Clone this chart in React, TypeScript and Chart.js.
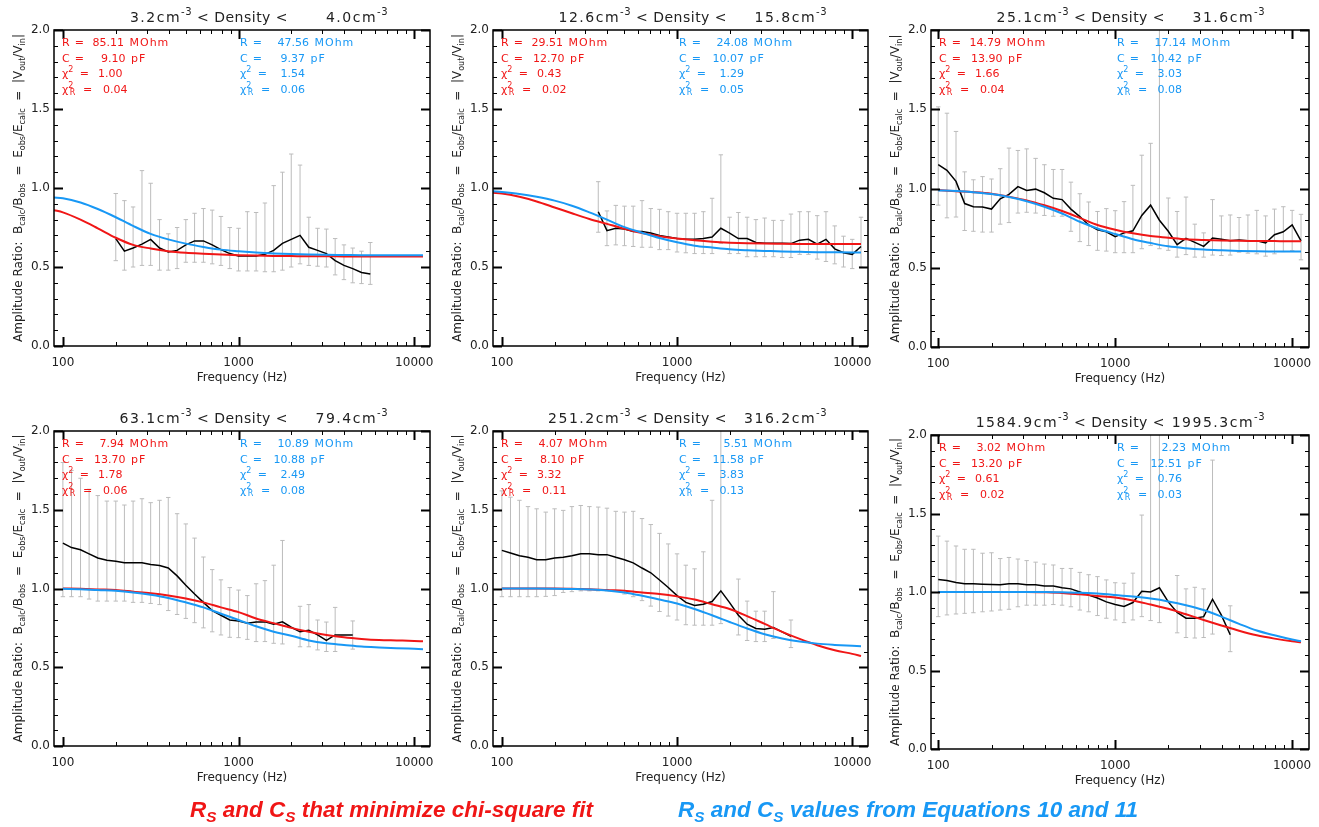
import React, { useEffect, useRef } from "react";
import { Chart, registerables } from "chart.js";

Chart.register(...registerables);

const FONT = "'DejaVu Sans', sans-serif";
const RED = "rgb(240,22,22)";
const BLUE = "rgb(24,152,245)";
const GRAY = "rgb(188,188,188)";
const INK = "#222";

// ---------------- data ----------------
const FREQ = [100, 112, 126, 141, 158, 178, 200, 224, 251, 282, 316, 355, 398, 447, 501, 562, 631, 708, 794, 891,
  1000, 1122, 1259, 1413, 1585, 1778, 1995, 2239, 2512, 2818, 3162, 3548, 3981, 4467, 5012, 5623, 6310, 7079, 7943, 8913,
  10000, 11220];

const MODEL_FREQ = [89, 100, 126, 158, 200, 251, 316, 398, 501, 631, 794, 1000, 1259, 1585, 1995, 2512, 3162, 3981, 5012,
  6310, 7943, 10000, 11220];

const X_TICK_LABELS = [100, 1000, 10000];
const Y_TICK_STEP = 0.5;

// Panel 1: 3.2 - 4.0 cm^-3
const P1_START = 6;
const P1_OBS = [0.68, 0.60, 0.62, 0.645, 0.675, 0.62, 0.595, 0.605, 0.64, 0.665, 0.665, 0.64, 0.61, 0.585, 0.57, 0.57, 0.57, 0.58, 0.605, 0.65, 0.675, 0.70, 0.625, 0.605, 0.585, 0.54, 0.51, 0.49, 0.465, 0.455];
const P1_HI = [0.965, 0.92, 0.88, 1.11, 1.03, 0.80, 0.71, 0.75, 0.80, 0.84, 0.87, 0.86, 0.82, 0.75, 0.745, 0.85, 0.845, 0.905, 1.015, 1.10, 1.215, 1.145, 0.815, 0.745, 0.74, 0.68, 0.64, 0.62, 0.60, 0.655];
const P1_LO = [0.54, 0.48, 0.50, 0.51, 0.51, 0.48, 0.48, 0.49, 0.53, 0.53, 0.53, 0.52, 0.51, 0.49, 0.475, 0.475, 0.475, 0.47, 0.47, 0.48, 0.50, 0.52, 0.51, 0.505, 0.50, 0.45, 0.42, 0.40, 0.395, 0.39];
const P1_RED = [0.86, 0.846, 0.80, 0.745, 0.685, 0.64, 0.617, 0.60, 0.59, 0.584, 0.579, 0.575, 0.572, 0.57, 0.569, 0.568, 0.568, 0.567, 0.567, 0.567, 0.567, 0.567, 0.567];
const P1_BLUE = [0.94, 0.935, 0.908, 0.867, 0.815, 0.76, 0.71, 0.675, 0.648, 0.627, 0.61, 0.60, 0.592, 0.586, 0.582, 0.579, 0.577, 0.576, 0.575, 0.575, 0.575, 0.575, 0.575];

// Panel 2: 12.6 - 15.8 cm^-3
const P2_START = 11;
const P2_OBS = [0.85, 0.73, 0.745, 0.74, 0.725, 0.725, 0.715, 0.70, 0.69, 0.68, 0.675, 0.675, 0.68, 0.69, 0.745, 0.715, 0.68, 0.68, 0.655, 0.65, 0.65, 0.65, 0.648, 0.67, 0.675, 0.645, 0.675, 0.615, 0.59, 0.58, 0.63];
const P2_HI = [1.04, 0.855, 0.89, 0.885, 0.885, 0.92, 0.87, 0.865, 0.85, 0.84, 0.84, 0.84, 0.85, 0.935, 1.21, 0.815, 0.845, 0.815, 0.80, 0.81, 0.795, 0.795, 0.835, 0.85, 0.85, 0.825, 0.85, 0.76, 0.695, 0.675, 0.815];
const P2_LO = [0.72, 0.635, 0.64, 0.635, 0.63, 0.625, 0.625, 0.61, 0.61, 0.595, 0.59, 0.585, 0.585, 0.585, 0.65, 0.585, 0.585, 0.565, 0.565, 0.565, 0.565, 0.56, 0.56, 0.58, 0.58, 0.55, 0.535, 0.52, 0.50, 0.49, 0.50];
const P2_RED = [0.97, 0.965, 0.944, 0.915, 0.877, 0.84, 0.804, 0.773, 0.742, 0.715, 0.694, 0.68, 0.669, 0.66, 0.654, 0.65, 0.648, 0.647, 0.646, 0.645, 0.645, 0.645, 0.645];
const P2_BLUE = [0.98, 0.975, 0.962, 0.944, 0.92, 0.888, 0.846, 0.80, 0.752, 0.717, 0.683, 0.656, 0.635, 0.623, 0.612, 0.606, 0.602, 0.598, 0.596, 0.594, 0.593, 0.592, 0.591];

// Panel 3: 25.1 - 31.6 cm^-3
const P3_START = 0;
const P3_OBS = [1.15, 1.115, 1.045, 0.905, 0.885, 0.883, 0.87, 0.935, 0.963, 1.012, 0.988, 0.996, 0.973, 0.938, 0.93, 0.87, 0.823, 0.77, 0.74, 0.727, 0.696, 0.72, 0.733, 0.83, 0.895, 0.80, 0.73, 0.646, 0.685, 0.66, 0.635, 0.687, 0.68, 0.67, 0.675, 0.67, 0.67, 0.656, 0.708, 0.727, 0.77, 0.67];
const P3_HI = [1.515, 1.475, 1.36, 1.105, 1.055, 1.075, 1.06, 1.125, 1.255, 1.24, 1.25, 1.19, 1.15, 1.12, 1.12, 1.04, 0.967, 0.915, 0.855, 0.873, 0.86, 0.917, 1.02, 1.21, 1.285, 2.2, 0.94, 0.855, 0.946, 0.775, 0.72, 0.93, 0.827, 0.833, 0.817, 0.833, 0.862, 0.827, 0.87, 0.885, 0.862, 0.837];
const P3_LO = [0.895, 0.815, 0.82, 0.735, 0.73, 0.725, 0.725, 0.775, 0.785, 0.845, 0.85, 0.845, 0.83, 0.825, 0.825, 0.73, 0.665, 0.64, 0.61, 0.605, 0.595, 0.595, 0.595, 0.62, 0.64, 0.62, 0.61, 0.567, 0.583, 0.567, 0.567, 0.58, 0.577, 0.58, 0.598, 0.592, 0.588, 0.573, 0.588, 0.602, 0.608, 0.55];
const P3_RED = [null, 0.99, 0.983, 0.977, 0.967, 0.948, 0.925, 0.894, 0.858, 0.815, 0.77, 0.74, 0.717, 0.70, 0.69, 0.68, 0.675, 0.672, 0.67, 0.669, 0.668, 0.667, 0.667];
const P3_BLUE = [null, 0.988, 0.984, 0.977, 0.965, 0.946, 0.92, 0.885, 0.842, 0.79, 0.748, 0.713, 0.68, 0.656, 0.635, 0.623, 0.615, 0.61, 0.606, 0.604, 0.603, 0.602, 0.602];

// Panel 4: 63.1 - 79.4 cm^-3
const P4_START = 0;
const P4_OBS = [1.288, 1.26, 1.246, 1.22, 1.194, 1.18, 1.173, 1.163, 1.163, 1.163, 1.152, 1.146, 1.13, 1.08, 1.02, 0.965, 0.912, 0.86, 0.83, 0.80, 0.794, 0.78, 0.788, 0.788, 0.773, 0.788, 0.754, 0.725, 0.735, 0.705, 0.67, 0.705, 0.705, 0.705];
const P4_HI = [1.80, 1.75, 1.70, 1.63, 1.59, 1.555, 1.555, 1.53, 1.555, 1.57, 1.545, 1.56, 1.578, 1.475, 1.41, 1.32, 1.20, 1.12, 1.055, 1.006, 0.99, 0.955, 1.03, 1.05, 1.148, 1.305, null, 0.887, 0.898, 0.80, 0.787, 0.88, null, 0.794];
const P4_LO = [0.948, 0.948, 0.948, 0.933, 0.92, 0.92, 0.92, 0.92, 0.912, 0.912, 0.905, 0.898, 0.86, 0.835, 0.81, 0.783, 0.75, 0.725, 0.705, 0.69, 0.688, 0.677, 0.663, 0.663, 0.652, 0.648, null, 0.63, 0.63, 0.61, 0.60, 0.60, null, 0.615];
const P4_RED = [null, 1.0, 0.998, 0.994, 0.99, 0.98, 0.97, 0.956, 0.937, 0.912, 0.88, 0.85, 0.81, 0.78, 0.75, 0.725, 0.705, 0.69, 0.68, 0.673, 0.67, 0.667, 0.665];
const P4_BLUE = [null, 0.998, 0.996, 0.99, 0.985, 0.975, 0.96, 0.94, 0.912, 0.88, 0.84, 0.80, 0.76, 0.725, 0.70, 0.67, 0.652, 0.642, 0.632, 0.626, 0.621, 0.617, 0.615];

// Panel 5: 251.2 - 316.2 cm^-3
const P5_START = 0;
const P5_OBS = [1.242, 1.225, 1.208, 1.198, 1.183, 1.183, 1.194, 1.198, 1.208, 1.22, 1.22, 1.215, 1.215, 1.198, 1.183, 1.163, 1.13, 1.10, 1.054, 1.006, 0.955, 0.912, 0.892, 0.90, 0.917, 0.985, 0.91, 0.83, 0.773, 0.746, 0.742, 0.752, 0.725, 0.696];
const P5_HI = [1.62, 1.58, 1.56, 1.52, 1.506, 1.485, 1.506, 1.496, 1.52, 1.527, 1.52, 1.517, 1.51, 1.49, 1.485, 1.49, 1.444, 1.406, 1.35, 1.283, 1.22, 1.148, 1.125, 1.233, 1.56, 2.2, null, 1.06, 0.92, 0.856, 0.856, 0.98, null, 0.80];
const P5_LO = [0.948, 0.948, 0.948, 0.948, 0.948, 0.95, 0.955, 0.975, 0.98, 0.985, 0.985, 0.985, 0.985, 0.985, 0.965, 0.948, 0.923, 0.888, 0.854, 0.825, 0.80, 0.77, 0.767, 0.767, 0.767, 0.777, null, 0.705, 0.67, 0.663, 0.663, 0.683, null, 0.625];
const P5_RED = [null, 1.0, 1.0, 1.0, 1.0, 0.998, 0.996, 0.99, 0.985, 0.975, 0.965, 0.95, 0.93, 0.90, 0.87, 0.825, 0.775, 0.725, 0.68, 0.64, 0.608, 0.585, 0.572];
const P5_BLUE = [null, 1.0, 1.0, 1.0, 0.999, 0.997, 0.994, 0.988, 0.975, 0.954, 0.93, 0.905, 0.87, 0.83, 0.787, 0.746, 0.71, 0.683, 0.663, 0.65, 0.642, 0.636, 0.633];

// Panel 6: 1584.9 - 1995.3 cm^-3
const P6_START = 0;
const P6_OBS = [1.08, 1.073, 1.06, 1.052, 1.052, 1.05, 1.048, 1.046, 1.052, 1.052, 1.046, 1.046, 1.038, 1.038, 1.027, 1.02, 1.0, 0.98, 0.962, 0.937, 0.92, 0.908, 0.933, 1.004, 1.0, 1.027, 0.937, 0.87, 0.833, 0.833, 0.843, 0.954, 0.853, 0.728];
const P6_HI = [1.356, 1.324, 1.293, 1.272, 1.272, 1.247, 1.25, 1.213, 1.22, 1.21, 1.2, 1.19, 1.178, 1.172, 1.15, 1.15, 1.125, 1.11, 1.098, 1.077, 1.059, 1.056, 1.12, 1.49, 2.2, 2.2, null, 1.105, 1.02, 1.03, 1.02, 1.84, null, 0.912];
const P6_LO = [0.843, 0.854, 0.86, 0.864, 0.868, 0.874, 0.879, 0.885, 0.89, 0.906, 0.916, 0.916, 0.916, 0.92, 0.916, 0.906, 0.885, 0.874, 0.85, 0.833, 0.822, 0.805, 0.822, 0.843, 0.818, 0.805, null, 0.74, 0.71, 0.707, 0.71, 0.732, null, 0.62];
const P6_RED = [null, 1.0, 1.0, 1.0, 1.0, 1.0, 1.0, 0.998, 0.994, 0.985, 0.975, 0.965, 0.946, 0.92, 0.893, 0.858, 0.822, 0.787, 0.753, 0.724, 0.703, 0.686, 0.68];
const P6_BLUE = [null, 1.0, 1.0, 1.0, 1.0, 1.0, 1.0, 1.0, 0.998, 0.996, 0.99, 0.981, 0.971, 0.958, 0.94, 0.916, 0.885, 0.843, 0.797, 0.755, 0.724, 0.697, 0.686];

// titles and fit parameters
const DENS_LO = [3.2, 12.6, 25.1, 63.1, 251.2, 1584.9];
const DENS_HI = [4.0, 15.8, 31.6, 79.4, 316.2, 1995.3];
const FIT_R = [85.11, 29.51, 14.79, 7.94, 4.07, 3.02];
const FIT_C = [9.10, 12.70, 13.90, 13.70, 8.10, 13.20];
const FIT_CHI = [1.00, 0.43, 1.66, 1.78, 3.32, 0.61];
const FIT_CHIR = [0.04, 0.02, 0.04, 0.06, 0.11, 0.02];
const EQ_R = [47.56, 24.08, 17.14, 10.89, 5.51, 2.23];
const EQ_C = [9.37, 10.07, 10.42, 10.88, 11.58, 12.51];
const EQ_CHI = [1.54, 1.29, 3.03, 2.49, 3.83, 0.76];
const EQ_CHIR = [0.06, 0.05, 0.08, 0.08, 0.13, 0.03];

const PANELS = [
  { start: P1_START, obs: P1_OBS, hi: P1_HI, lo: P1_LO, red: P1_RED, blue: P1_BLUE },
  { start: P2_START, obs: P2_OBS, hi: P2_HI, lo: P2_LO, red: P2_RED, blue: P2_BLUE },
  { start: P3_START, obs: P3_OBS, hi: P3_HI, lo: P3_LO, red: P3_RED, blue: P3_BLUE },
  { start: P4_START, obs: P4_OBS, hi: P4_HI, lo: P4_LO, red: P4_RED, blue: P4_BLUE },
  { start: P5_START, obs: P5_OBS, hi: P5_HI, lo: P5_LO, red: P5_RED, blue: P5_BLUE },
  { start: P6_START, obs: P6_OBS, hi: P6_HI, lo: P6_LO, red: P6_RED, blue: P6_BLUE },
];

// ---------------- layout (pixels) ----------------
const LAYOUT = [
  { cx: 0, cy: 0, cw: 440, l: 54, t: 30, r: 434, b: 346, xmin: 89, xmax: 12300 },
  { cx: 440, cy: 0, cw: 438, l: 493, t: 30, r: 873, b: 346, xmin: 89, xmax: 12300 },
  { cx: 878, cy: 0, cw: 441, l: 931, t: 30, r: 1310, b: 347, xmin: 91, xmax: 12450 },
  { cx: 0, cy: 400, cw: 440, l: 54, t: 431, r: 434, b: 746, xmin: 89, xmax: 12300 },
  { cx: 440, cy: 400, cw: 438, l: 493, t: 431, r: 873, b: 746, xmin: 89, xmax: 12300 },
  { cx: 878, cy: 400, cw: 441, l: 931, t: 435, r: 1310, b: 749, xmin: 91, xmax: 12450 },
];
const X_AXIS_H = 54;

type Run = { t: string; s: number; dy: number; ls?: number };

function runWidth(ctx: CanvasRenderingContext2D, r: Run) {
  (ctx as any).letterSpacing = "0px";
  ctx.font = `${r.s}px ${FONT}`;
  return ctx.measureText(r.t).width + (r.ls || 0) * r.t.length;
}
function runsWidth(ctx: CanvasRenderingContext2D, runs: Run[]) {
  let w = 0;
  for (const r of runs) w += runWidth(ctx, r);
  return w;
}
function drawRuns(ctx: CanvasRenderingContext2D, runs: Run[], x: number, y: number, color: string) {
  let cx = x;
  ctx.fillStyle = color;
  ctx.textAlign = "left";
  ctx.textBaseline = "alphabetic";
  for (const r of runs) {
    const w = runWidth(ctx, r);
    (ctx as any).letterSpacing = `${r.ls || 0}px`;
    ctx.fillText(r.t, cx, y + r.dy);
    cx += w;
  }
  (ctx as any).letterSpacing = "0px";
  return cx;
}

function densRuns(v: number): Run[] {
  return [
    { t: v.toFixed(1) + "cm", s: 14, dy: 0, ls: 1.5 },
    { t: "-3", s: 10, dy: -7.5, ls: 0.5 },
  ];
}

function drawLabel(ctx: CanvasRenderingContext2D, kind: string, x: number, y: number, color: string) {
  ctx.fillStyle = color;
  ctx.textAlign = "left";
  ctx.textBaseline = "alphabetic";
  ctx.font = `11px ${FONT}`;
  if (kind === "R" || kind === "C") {
    ctx.fillText(kind, x, y);
    ctx.fillText("=", x + 12.7, y);
    return;
  }
  ctx.fillText("\u03c7", x, y);
  const w = ctx.measureText("\u03c7").width;
  ctx.font = `8px ${FONT}`;
  ctx.fillText("2", x + w, y - 5);
  if (kind === "chiR") {
    ctx.fillText("R", x + w + 1.5, y + 2);
    ctx.font = `11px ${FONT}`;
    ctx.fillText("=", x + 21, y);
  } else {
    ctx.font = `11px ${FONT}`;
    ctx.fillText("=", x + 17.7, y);
  }
}

const ROW_Y = [15.8, 31.6, 47.4, 63.2];
const ROW_KIND = ["R", "C", "chi", "chiR"];
const ROW_UNIT = ["MOhm", "pF", "", ""];
const RED_VAL_X = [62, 63.5, 60.5, 65.5];
const BLUE_VAL_X = [69, 65, 65, 65];

function drawParams(ctx: CanvasRenderingContext2D, x0: number, top: number, vals: number[], vx: number[], color: string) {
  for (let i = 0; i < 4; i++) {
    const y = top + ROW_Y[i];
    drawLabel(ctx, ROW_KIND[i], x0, y, color);
    ctx.font = `11px ${FONT}`;
    ctx.fillStyle = color;
    ctx.textAlign = "right";
    ctx.fillText(vals[i].toFixed(2), x0 + vx[i], y);
    if (ROW_UNIT[i]) {
      ctx.textAlign = "left";
      (ctx as any).letterSpacing = "1px";
      ctx.fillText(ROW_UNIT[i], x0 + vx[i] + 5.5, y);
      (ctx as any).letterSpacing = "0px";
    }
  }
}

const Y_TITLE: Run[] = [
  { t: "Amplitude Ratio:  B", s: 12, dy: 0 },
  { t: "calc", s: 8, dy: 3 },
  { t: "/B", s: 12, dy: 0 },
  { t: "obs", s: 8, dy: 3 },
  { t: "  =  E", s: 12, dy: 0 },
  { t: "obs", s: 8, dy: 3 },
  { t: "/E", s: 12, dy: 0 },
  { t: "calc", s: 8, dy: 3 },
  { t: "  =  |V", s: 12, dy: 0 },
  { t: "out", s: 8, dy: 3 },
  { t: "/V", s: 12, dy: 0 },
  { t: "in", s: 8, dy: 3 },
  { t: "|", s: 12, dy: 0 },
];

function drawYTitle(ctx: CanvasRenderingContext2D, area: any) {
  ctx.save();
  ctx.translate(area.left - 32, (area.top + area.bottom) / 2);
  ctx.rotate(-Math.PI / 2);
  const nat = runsWidth(ctx, Y_TITLE);
  const n = Y_TITLE.reduce((a, r) => a + r.t.length, 0);
  const target = 308;
  const ls = (target - nat) / n;
  let x = -target / 2;
  ctx.fillStyle = INK;
  ctx.textAlign = "left";
  ctx.textBaseline = "alphabetic";
  for (const r of Y_TITLE) {
    const w = runWidth(ctx, r);
    (ctx as any).letterSpacing = `${ls}px`;
    ctx.fillText(r.t, x, r.dy);
    x += w + ls * r.t.length;
  }
  (ctx as any).letterSpacing = "0px";
  ctx.restore();
}

function makeOverlay(idx: number) {
  return {
    id: "overlay" + idx,
    afterDatasetsDraw(chart: any) {
      const { ctx, chartArea: a, scales } = chart;
      const xs = scales.x;
      const ys = scales.y;
      ctx.save();
      ctx.strokeStyle = "#000";
      // y ticks (inward, both sides)
      for (let i = 0; i <= 20; i++) {
        const v = i / 10;
        const y = Math.round(ys.getPixelForValue(v)) + 0.5;
        const major = i % 5 === 0;
        const len = major ? 9 : 4;
        ctx.lineWidth = major ? 2 : 1;
        ctx.beginPath();
        ctx.moveTo(a.left, y);
        ctx.lineTo(a.left + len, y);
        ctx.moveTo(a.right, y);
        ctx.lineTo(a.right - len, y);
        ctx.stroke();
      }
      // x ticks (inward, top and bottom)
      for (const dec of [10, 100, 1000, 10000]) {
        for (let m = 1; m <= 9; m++) {
          const f = dec * m;
          if (f <= xs.min * 1.02 || f >= xs.max / 1.02) continue;
          const x = Math.round(xs.getPixelForValue(f)) + 0.5;
          const major = m === 1;
          const len = major ? 9 : 4;
          ctx.lineWidth = major ? 2 : 1;
          ctx.beginPath();
          ctx.moveTo(x, a.bottom);
          ctx.lineTo(x, a.bottom - len);
          ctx.moveTo(x, a.top);
          ctx.lineTo(x, a.top + len);
          ctx.stroke();
        }
      }
      ctx.lineWidth = 1.5;
      ctx.strokeRect(a.left, a.top, a.right - a.left, a.bottom - a.top);
      ctx.restore();
    },
    afterDraw(chart: any) {
      const { ctx, chartArea: a } = chart;
      ctx.save();
      // title
      const ty = a.top - 8;
      const left = densRuns(DENS_LO[idx]);
      drawRuns(ctx, left, a.left + 138 - runsWidth(ctx, left), ty, INK);
      ctx.font = `14px ${FONT}`;
      ctx.fillStyle = INK;
      ctx.textAlign = "left";
      (ctx as any).letterSpacing = "0.5px";
      ctx.fillText("< Density <", a.left + 143, ty);
      (ctx as any).letterSpacing = "0px";
      const right = densRuns(DENS_HI[idx]);
      drawRuns(ctx, right, a.left + 334 - runsWidth(ctx, right), ty, INK);
      // parameter text
      drawParams(ctx, a.left + 8, a.top, [FIT_R[idx], FIT_C[idx], FIT_CHI[idx], FIT_CHIR[idx]], RED_VAL_X, RED);
      drawParams(ctx, a.left + 186, a.top, [EQ_R[idx], EQ_C[idx], EQ_CHI[idx], EQ_CHIR[idx]], BLUE_VAL_X, BLUE);
      // y title
      drawYTitle(ctx, a);
      ctx.restore();
    },
  };
}

function buildDatasets(idx: number) {
  const p = PANELS[idx];
  const err: any[] = [];
  p.hi.forEach((h, i) => {
    const l = p.lo[i];
    if (h == null || l == null) return;
    const f = FREQ[p.start + i];
    err.push({ x: f, y: l }, { x: f, y: h }, { x: f, y: null });
  });
  const obs = p.obs.map((v, i) => ({ x: FREQ[p.start + i], y: v }));
  const red = p.red.map((v, i) => ({ x: MODEL_FREQ[i], y: v }));
  const blue = p.blue.map((v, i) => ({ x: MODEL_FREQ[i], y: v }));
  return [
    {
      label: "error", data: err, borderColor: GRAY, borderWidth: 1, pointStyle: "line", pointRadius: 2.2,
      pointBorderColor: GRAY, pointBorderWidth: 1, pointHoverRadius: 0, spanGaps: false, order: 4,
    },
    { label: "observed", data: obs, borderColor: "#000", borderWidth: 1.5, pointRadius: 0, order: 3 },
    { label: "chi-square fit", data: red, borderColor: RED, borderWidth: 2, pointRadius: 0, cubicInterpolationMode: "monotone", order: 2 },
    { label: "equations", data: blue, borderColor: BLUE, borderWidth: 2, pointRadius: 0, cubicInterpolationMode: "monotone", order: 1 },
  ];
}

function Panel({ idx }: { idx: number }) {
  const ref = useRef<HTMLCanvasElement | null>(null);
  const L = LAYOUT[idx];
  const height = L.b + X_AXIS_H - L.cy;
  useEffect(() => {
    if (!ref.current) return;
    const chart = new Chart(ref.current, {
      type: "line",
      data: { datasets: buildDatasets(idx) as any },
      options: {
        responsive: false,
        animation: false,
        events: [],
        layout: { padding: { left: 0, top: L.t - L.cy, right: L.cx + L.cw - L.r, bottom: 0 } },
        plugins: { legend: { display: false }, tooltip: { enabled: false }, title: { display: false } },
        elements: { line: { tension: 0 } },
        scales: {
          x: {
            type: "logarithmic",
            position: "bottom",
            min: L.xmin,
            max: L.xmax,
            grid: { display: false, drawTicks: false },
            border: { display: false },
            ticks: {
              autoSkip: false,
              maxRotation: 0,
              padding: 10,
              color: INK,
              font: { family: FONT, size: 12 },
              callback: (v: any) => (X_TICK_LABELS.includes(Number(v)) ? String(v) : ""),
            },
            title: {
              display: true,
              text: "Frequency (Hz)",
              color: INK,
              font: { family: FONT, size: 12 },
              padding: { top: 0, bottom: 15 },
            },
            afterFit: (s: any) => {
              s.height = X_AXIS_H;
            },
          },
          y: {
            type: "linear",
            min: 0,
            max: 2,
            grid: { display: false, drawTicks: false },
            border: { display: false },
            ticks: {
              stepSize: Y_TICK_STEP,
              padding: 4,
              color: INK,
              font: { family: FONT, size: 12 },
              callback: (v: any) => Number(v).toFixed(1),
            },
            afterFit: (s: any) => {
              s.width = L.l - L.cx;
            },
          },
        },
      } as any,
      plugins: [makeOverlay(idx)],
    });
    return () => chart.destroy();
  }, [idx]);
  return (
    <canvas
      ref={ref}
      width={L.cw}
      height={height}
      style={{ position: "absolute", left: L.cx, top: L.cy, width: L.cw, height }}
    />
  );
}

const subStyle: React.CSSProperties = { fontSize: "0.68em", position: "relative", top: "0.32em" };

const legendStyle: React.CSSProperties = {
  position: "absolute",
  top: 799,
  fontFamily: "'Liberation Sans', Arial, sans-serif",
  fontWeight: "bold",
  fontStyle: "italic",
  fontSize: 22.5,
  lineHeight: "22px",
  whiteSpace: "nowrap",
};

export default function App() {
  return (
    <div
      style={{
        position: "absolute",
        left: 0,
        top: 0,
        width: 1319,
        height: 827,
        background: "#fff",
        overflow: "hidden",
      }}
    >
      {PANELS.map((_, i) => (
        <Panel key={i} idx={i} />
      ))}
      <div style={{ ...legendStyle, left: 190, color: RED }}>
        R<span style={subStyle}>S</span> and C<span style={subStyle}>S</span> that minimize chi-square fit
      </div>
      <div style={{ ...legendStyle, left: 678, color: BLUE }}>
        R<span style={subStyle}>S</span> and C<span style={subStyle}>S</span> values from Equations 10 and 11
      </div>
    </div>
  );
}
